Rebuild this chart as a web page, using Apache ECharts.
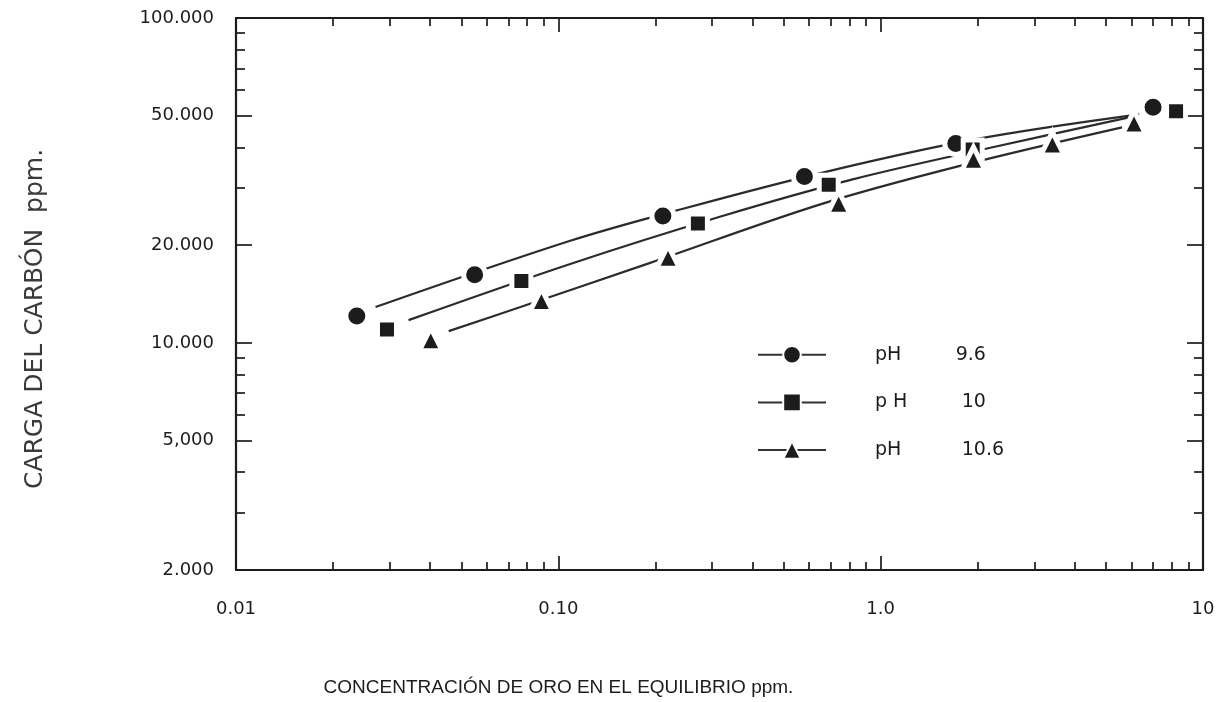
<!DOCTYPE html>
<html>
<head>
<meta charset="utf-8">
<script src="https://cdn.jsdelivr.net/npm/echarts@6/dist/echarts.min.js"></script>
<style>html,body{margin:0;padding:0;background:#fff}#c{width:1226px;height:702px}</style>
</head>
<body>
<div id="c"></div>
<script>
// ---- tick values and labels ----
const xTickValues = [0.01, 0.1, 1, 10];
const xTickLabels = ['0.01', '0.10', '1.0', '10'];
const xMinorTicks = [0.02, 0.03, 0.04, 0.05, 0.06, 0.07, 0.08, 0.09,
                     0.2, 0.3, 0.4, 0.5, 0.6, 0.7, 0.8, 0.9,
                     2, 3, 4, 5, 6, 7, 8, 9];
const yTickValues = [2000, 5000, 10000, 20000, 50000, 100000];
const yTickLabels = ['2.000', '5,000', '10.000', '20.000', '50.000', '100.000'];
const yMinorTicks = [3000, 4000, 6000, 7000, 8000, 9000, 30000, 40000, 60000, 70000, 80000, 90000];

// ---- series names ----
const seriesNames = ['pH 9.6', 'pH 10', 'pH 10.6'];
const legendLabels = ['pH         9.6', 'p H         10', 'pH          10.6'];

// ---- measured points (x: ppm Au in solution, y: ppm carbon loading) ----
const ph96X = [0.0237, 0.055, 0.211, 0.58, 1.71, 7.0];
const ph96Y = [12100, 16200, 24600, 32500, 41100, 53100];
const ph10X = [0.0294, 0.0768, 0.271, 0.69, 1.93, 8.25];
const ph10Y = [11000, 15500, 23300, 30700, 39400, 51600];
const ph106X = [0.0402, 0.0886, 0.219, 0.741, 1.94, 3.41, 6.11];
const ph106Y = [10260, 13550, 18400, 27000, 36900, 41100, 47700];

// ---- fitted curves ----
const fit96X = [0.0271, 0.1089, 0.2438, 0.661, 1.954, 6.34];
const fit96Y = [12890, 20620, 25880, 33440, 42290, 50500];
const fit10X = [0.0343, 0.1089, 0.317, 0.813, 2.207, 5.90];
const fit10Y = [11750, 17500, 24450, 31810, 39950, 49440];
const fit106X = [0.0457, 0.0763, 0.1927, 0.661, 1.781, 5.61];
const fit106Y = [10870, 12890, 17630, 26830, 35150, 46050];

const zip = (xs, ys) => xs.map((x, i) => [x, ys[i]]);
const lookup = (vals, labels) => v => {
  for (let i = 0; i < vals.length; i++) {
    if (Math.abs(v - vals[i]) / vals[i] < 1e-3) return labels[i];
  }
  return '';
};

const INK = '#1c1c1c';
const FONT = 'DejaVu Sans';

function xAxisDef(pos, ticks, tickLen, withLabels, showLine) {
  return {
    type: 'log', logBase: 10, min: 0.01, max: 10, position: pos,
    axisLine: { show: showLine, onZero: false, lineStyle: { color: INK, width: 2.2 } },
    axisTick: { show: true, inside: true, length: tickLen, lineStyle: { color: INK, width: 1.7 },
                customValues: ticks },
    axisLabel: { show: withLabels, customValues: xTickValues, formatter: lookup(xTickValues, xTickLabels),
                 margin: 30, color: INK, fontSize: 18, fontFamily: FONT },
    splitLine: { show: false }, minorTick: { show: false }
  };
}
function yAxisDef(pos, ticks, tickLen, withLabels, showLine) {
  return {
    type: 'log', logBase: 10, min: 2000, max: 100000, position: pos,
    axisLine: { show: showLine, onZero: false, lineStyle: { color: INK, width: 2.2 } },
    axisTick: { show: true, inside: true, length: tickLen, lineStyle: { color: INK, width: 1.7 },
                customValues: ticks },
    axisLabel: { show: withLabels, customValues: yTickValues, formatter: lookup(yTickValues, yTickLabels),
                 margin: 22, color: INK, fontSize: 18, fontFamily: FONT },
    splitLine: { show: false }, minorTick: { show: false }
  };
}

const xBottom = xAxisDef('bottom', xTickValues, 14, true, true);
xBottom.name = 'CONCENTRACIÓN DE ORO EN EL EQUILIBRIO ppm.';
xBottom.nameLocation = 'middle';
xBottom.nameGap = 108;
xBottom.nameMoveOverlap = false;
xBottom.nameTextStyle = { color: INK, fontSize: 19, fontFamily: 'Liberation Sans', padding: [0, 322, 0, 0] };

const yLeft = yAxisDef('left', yTickValues, 16, true, true);
yLeft.name = 'CARGA DEL CARBÓN  ppm.';
yLeft.nameLocation = 'middle';
yLeft.nameGap = 188;
yLeft.nameMoveOverlap = false;
yLeft.nameTextStyle = { color: '#3a3a3a', fontSize: 25, fontFamily: FONT, padding: [0, 50, 0, 0] };

const symbols = ['circle', 'rect', 'triangle'];
const symbolSizes = [22, 19, 23];
const pts = [zip(ph96X, ph96Y), zip(ph10X, ph10Y), zip(ph106X, ph106Y)];
const fits = [zip(fit96X, fit96Y), zip(fit10X, fit10Y), zip(fit106X, fit106Y)];

const series = [];
fits.forEach((d, i) => series.push({
  type: 'line', name: 'ajuste ' + seriesNames[i], data: d, smooth: 0.35,
  showSymbol: false, symbol: 'none', silent: true, z: 2,
  lineStyle: { color: '#2b2b2b', width: 2.2 }
}));
pts.forEach((d, i) => series.push({
  type: 'line', name: seriesNames[i], data: d, z: 4,
  symbol: symbols[i], symbolSize: symbolSizes[i], showSymbol: true,
  lineStyle: { opacity: 0, width: 0 },
  itemStyle: { color: INK, borderColor: '#ffffff', borderWidth: 5 }
}));

const chart = echarts.init(document.getElementById('c'), null, { renderer: 'canvas' });
chart.setOption({
  animation: false,
  backgroundColor: '#ffffff',
  grid: { left: 236, right: 23, top: 18, bottom: 132, containLabel: false, outerBoundsMode: 'none' },
  xAxis: [
    xBottom,
    xAxisDef('bottom', xMinorTicks, 8, false, false),
    xAxisDef('top', xTickValues, 14, false, true),
    xAxisDef('top', xMinorTicks, 8, false, false)
  ],
  yAxis: [
    yLeft,
    yAxisDef('left', yMinorTicks, 9, false, false),
    yAxisDef('right', yTickValues, 16, false, true),
    yAxisDef('right', yMinorTicks, 9, false, false)
  ],
  legend: {
    data: seriesNames, orient: 'vertical', left: 752, top: 340,
    itemWidth: 68, itemHeight: 22, itemGap: 28,
    formatter: name => legendLabels[seriesNames.indexOf(name)],
    textStyle: { color: INK, fontSize: 19, fontFamily: FONT, padding: [0, 0, 0, 44] },
    lineStyle: { color: '#333', width: 2, opacity: 1 },
    selectedMode: false
  },
  series: series
});
</script>
</body>
</html>
